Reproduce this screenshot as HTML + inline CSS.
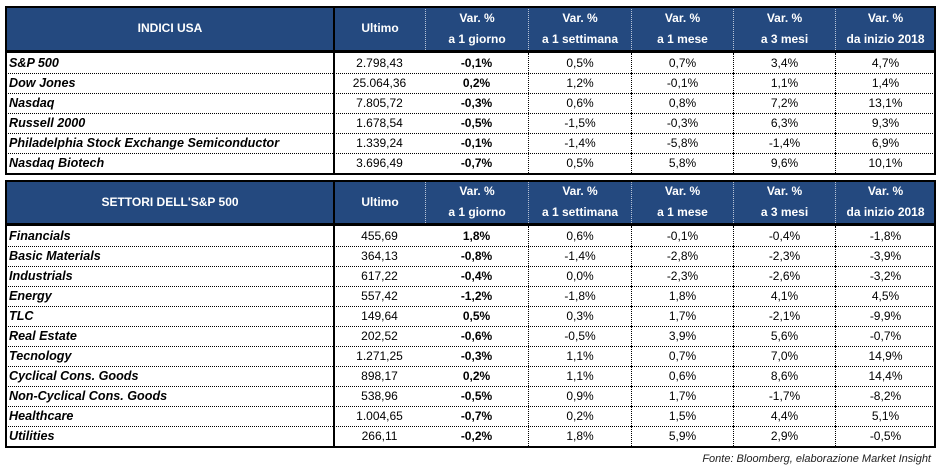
<!DOCTYPE html>
<html><head><meta charset="utf-8">
<style>
body{margin:0;width:937px;height:471px;background:#fff;position:relative;overflow:hidden;font-family:"Liberation Sans",sans-serif;}
.c{position:absolute;box-sizing:border-box;display:flex;align-items:center;justify-content:center;font-size:12px;color:#000;white-space:nowrap;}
.h{background:#24497f;color:#fff;font-weight:bold;font-size:12px;flex-direction:column;line-height:21px;border-left:1px dotted #b8c4d8;}
.n{justify-content:flex-start;padding-left:4px;font-weight:bold;font-style:italic;font-size:12.6px;}
.b{font-weight:bold;}
.line{position:absolute;background:#000;}
.note{position:absolute;right:6px;top:453px;font-size:11px;font-style:italic;color:#222;}
</style></head><body>
<div id="root"></div>
<div class="note">Fonte: Bloomberg, elaborazione Market Insight</div>
<script>
const xs=[5,334,425,528,631,733,835,935];
const headSub=[["Var. %","a 1 giorno"],["Var. %","a 1 settimana"],["Var. %","a 1 mese"],["Var. %","a 3 mesi"],["Var. %","da inizio 2018"]];
const t1Names=["S&P 500","Dow Jones","Nasdaq","Russell 2000","Philadelphia Stock Exchange Semiconductor","Nasdaq Biotech"];
const t1Vals=[["2.798,43","-0,1%","0,5%","0,7%","3,4%","4,7%"],["25.064,36","0,2%","1,2%","-0,1%","1,1%","1,4%"],["7.805,72","-0,3%","0,6%","0,8%","7,2%","13,1%"],["1.678,54","-0,5%","-1,5%","-0,3%","6,3%","9,3%"],["1.339,24","-0,1%","-1,4%","-5,8%","-1,4%","6,9%"],["3.696,49","-0,7%","0,5%","5,8%","9,6%","10,1%"]];
const t2Names=["Financials","Basic Materials","Industrials","Energy","TLC","Real Estate","Tecnology","Cyclical Cons. Goods","Non-Cyclical Cons. Goods","Healthcare","Utilities"];
const t2Vals=[["455,69","1,8%","0,6%","-0,1%","-0,4%","-1,8%"],["364,13","-0,8%","-1,4%","-2,8%","-2,3%","-3,9%"],["617,22","-0,4%","0,0%","-2,3%","-2,6%","-3,2%"],["557,42","-1,2%","-1,8%","1,8%","4,1%","4,5%"],["149,64","0,5%","0,3%","1,7%","-2,1%","-9,9%"],["202,52","-0,6%","-0,5%","3,9%","5,6%","-0,7%"],["1.271,25","-0,3%","1,1%","0,7%","7,0%","14,9%"],["898,17","0,2%","1,1%","0,6%","8,6%","14,4%"],["538,96","-0,5%","0,9%","1,7%","-1,7%","-8,2%"],["1.004,65","-0,7%","0,2%","1,5%","4,4%","5,1%"],["266,11","-0,2%","1,8%","5,9%","2,9%","-0,5%"]];
const root=document.getElementById('root');
function cell(x,y,w,h,cls,html){const d=document.createElement('div');d.className='c '+cls;d.style.left=x+'px';d.style.top=y+'px';d.style.width=w+'px';d.style.height=h+'px';d.innerHTML=html;root.appendChild(d);return d;}
function line(x,y,w,h){const d=document.createElement('div');d.className='line';d.style.left=x+'px';d.style.top=y+'px';d.style.width=w+'px';d.style.height=h+'px';root.appendChild(d);return d;}
function table(top,hh,title,names,vals,key){
  const hd=cell(xs[0],top,xs[1]-xs[0],hh,'h',title);
  
  
  const u=cell(xs[1],top,xs[2]-xs[1],hh,'h','Ultimo');
  
  
  for(let i=0;i<5;i++){const c=cell(xs[i+2],top,xs[i+3]-xs[i+2],hh,'h','<span>'+headSub[i][0]+'</span><span>'+headSub[i][1]+'</span>');
    
    }
  const rt=top+hh+3;
  line(xs[0],top-1,xs[7]-xs[0],2);
  line(xs[0],top+hh,xs[7]-xs[0],3);
  names.forEach((n,r)=>{
    const y=rt+r*20;
    const nc=cell(xs[0],y,xs[1]-xs[0],20,'n',n.replace(/&/g,'&amp;'));
    
    
    vals[r].forEach((v,j)=>{const c=cell(xs[j+1],y,xs[j+2]-xs[j+1],20,j==1?'b':'',v);
      c.style.borderLeft=j>1?'1px dotted #000':'none';
      
      });
    if(r>0){const l=document.createElement('div');l.style.cssText='position:absolute;left:'+xs[0]+'px;top:'+y+'px;width:'+(xs[7]-xs[0])+'px;border-top:1px dotted #000;';root.appendChild(l);}
  });
  const bot=rt+names.length*20;
  line(xs[0],bot,xs[7]-xs[0],2);
  line(xs[0],top-1,2,bot-top+3);
  line(xs[7]-1,top-1,2,bot-top+3);
  line(xs[1]-1,top,2,bot-top);
}
table(7,43,'INDICI USA',t1Names,t1Vals,'usa');
table(181,42,"SETTORI DELL'S&amp;P 500",t2Names,t2Vals,'sectors');
</script>
</body></html>
